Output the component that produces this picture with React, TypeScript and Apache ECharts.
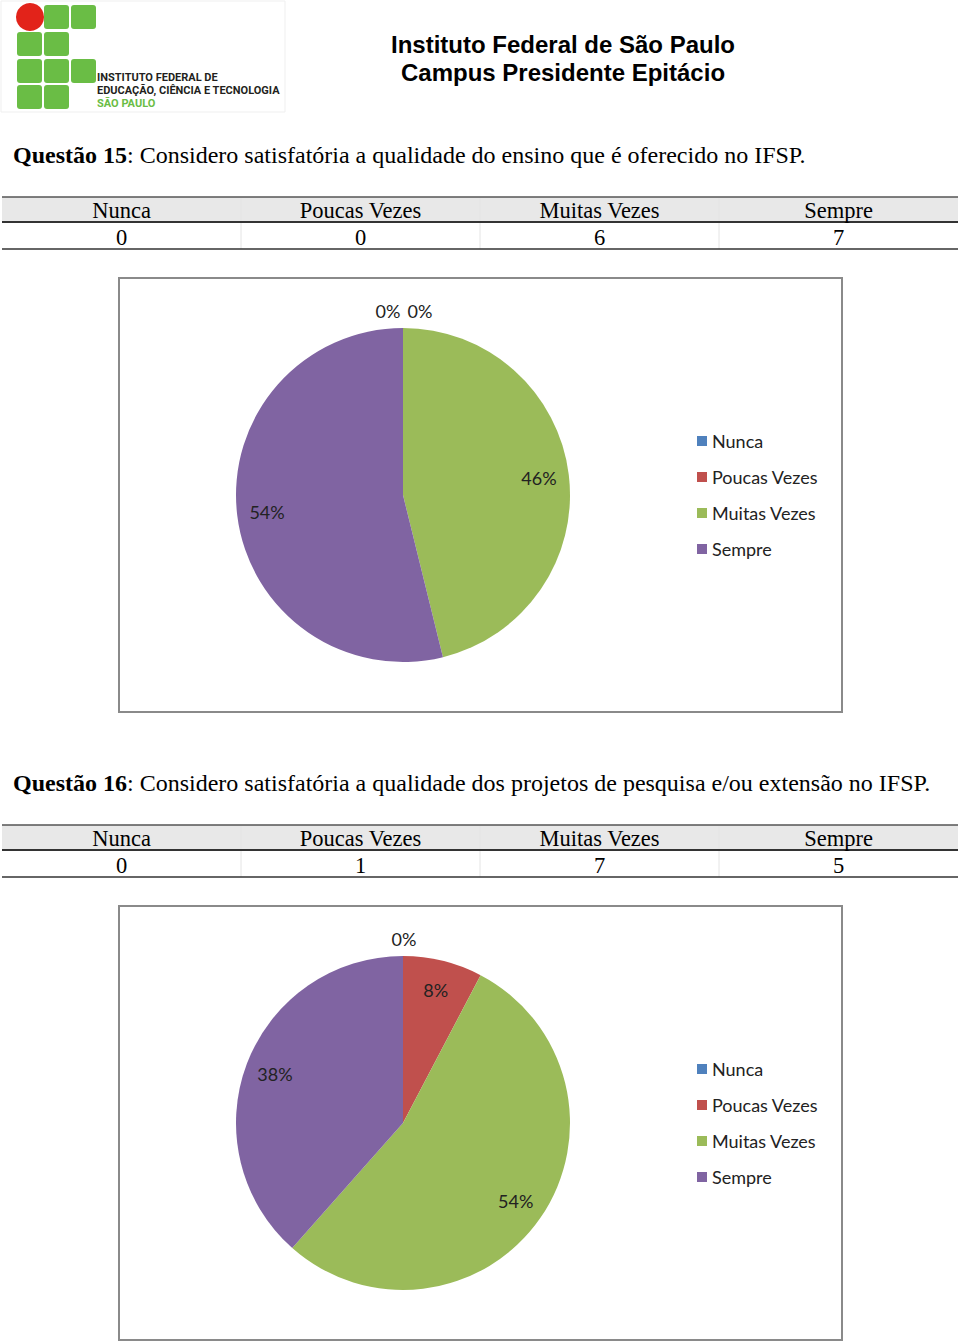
import React, { useEffect, useRef } from "react";
import * as echarts from "echarts";

const categories = ["Nunca", "Poucas Vezes", "Muitas Vezes", "Sempre"];
const q15Values = [0, 0, 6, 7];
const q16Values = [0, 1, 7, 5];
const q15Number = "15";
const q16Number = "16";
const q15Title = "Considero satisfatória a qualidade do ensino que é oferecido no IFSP.";
const q16Title = "Considero satisfatória a qualidade dos projetos de pesquisa e/ou extensão no IFSP.";
const headerLines = ["Instituto Federal de São Paulo", "Campus Presidente Epitácio"];
const logoLines = ["INSTITUTO FEDERAL DE", "EDUCAÇÃO, CIÊNCIA E TECNOLOGIA", "SÃO PAULO"];
const colors = ["#4F81BD", "#C0504D", "#9BBB59", "#8064A2"];

const SERIF = '"Liberation Serif", "Times New Roman", serif';
const SANS = '"Liberation Sans", Arial, sans-serif';
const CAL = 'Lato, "Open Sans", sans-serif';

const PIE_CX = 403;
const PIE_R = 167;
const SECTION_GAP = 628;

function pct(values: number[], i: number) {
  const total = values.reduce((a, b) => a + b, 0);
  return Math.round((values[i] / total) * 100) + "%";
}

function makeLabelLayout(values: number[], cy: number) {
  const total = values.reduce((a, b) => a + b, 0);
  const zeros = values.map((v, i) => (v === 0 ? i : -1)).filter((i) => i >= 0);
  return (params: any) => {
    const i = params.dataIndex;
    const v = values[i];
    if (v === 0) {
      const j = zeros.indexOf(i);
      const off = (j - (zeros.length - 1) / 2) * 32;
      return { x: PIE_CX + 1 + off, y: cy - PIE_R - 17, align: "center", verticalAlign: "middle" };
    }
    let before = 0;
    for (let k = 0; k < i; k++) before += values[k];
    const mid = ((before + v / 2) / total) * Math.PI * 2;
    const rr = PIE_R * 0.82;
    return {
      x: PIE_CX + rr * Math.sin(mid),
      y: cy - rr * Math.cos(mid),
      align: "center",
      verticalAlign: "middle",
    };
  };
}

function sectionGraphics(dy: number, num: string, title: string, values: number[]) {
  const els: any[] = [];
  els.push({
    type: "text",
    x: 13,
    y: 155 + dy,
    style: {
      text: "{b|Questão " + num + "}: " + title,
      font: "24px " + SERIF,
      fill: "#000",
      textVerticalAlign: "middle",
      rich: { b: { fontWeight: "bold", fontSize: 24, fontFamily: SERIF, fill: "#000" } },
    },
  });
  const tTop = 197 + dy;
  const colW = 239;
  els.push({ type: "rect", shape: { x: 2, y: tTop, width: 956, height: 25 }, style: { fill: "#e8e8e8" } });
  for (let c = 1; c < 4; c++) {
    els.push({ type: "line", shape: { x1: 2 + c * colW, y1: tTop, x2: 2 + c * colW, y2: tTop + 52 }, style: { stroke: "#e4e4e4", lineWidth: 1 } });
  }
  els.push({ type: "line", shape: { x1: 2, y1: tTop, x2: 958, y2: tTop }, style: { stroke: "#555", lineWidth: 1.5 } });
  els.push({ type: "line", shape: { x1: 2, y1: tTop + 25, x2: 958, y2: tTop + 25 }, style: { stroke: "#333", lineWidth: 2 } });
  els.push({ type: "line", shape: { x1: 2, y1: tTop + 52, x2: 958, y2: tTop + 52 }, style: { stroke: "#333", lineWidth: 1.5 } });
  categories.forEach((cat, i) => {
    const cx = 2 + (i + 0.5) * colW;
    els.push({ type: "text", x: cx, y: tTop + 13, style: { text: cat, font: "22.5px " + SERIF, fill: "#000", textAlign: "center", textVerticalAlign: "middle" } });
    els.push({ type: "text", x: cx, y: tTop + 40, style: { text: String(values[i]), font: "22.5px " + SERIF, fill: "#000", textAlign: "center", textVerticalAlign: "middle" } });
  });
  els.push({ type: "rect", shape: { x: 119, y: 278 + dy, width: 723, height: 434 }, style: { fill: "none", stroke: "#8a8a8a", lineWidth: 2 } });
  return els;
}

function logoGraphics() {
  const els: any[] = [];
  const green = "#6abd45";
  const cols = [17, 44, 71];
  const rows = [5, 32, 59, 85];
  const cells: [number, number][] = [
    [0, 1], [0, 2],
    [1, 0], [1, 1],
    [2, 0], [2, 1], [2, 2],
    [3, 0], [3, 1],
  ];
  els.push({ type: "rect", shape: { x: 1, y: 1, width: 284, height: 111 }, style: { fill: "#fff", stroke: "#efefef", lineWidth: 1 } });
  cells.forEach(([r, c]) => {
    els.push({ type: "rect", shape: { x: cols[c], y: rows[r], width: 25, height: 24, r: 3 }, style: { fill: green } });
  });
  els.push({ type: "circle", shape: { cx: 30, cy: 17, r: 14 }, style: { fill: "#e2231a" } });
  const ys = [77, 90, 103];
  logoLines.forEach((t, i) => {
    els.push({
      type: "text",
      x: 97,
      y: ys[i],
      style: {
        text: t,
        font: 'bold 11px "Liberation Sans Narrow", "Roboto", sans-serif',
        fill: i === 2 ? "#6abd45" : "#231f20",
        textVerticalAlign: "middle",
      },
    });
  });
  return els;
}

function pieSeries(values: number[], cy: number) {
  return {
    type: "pie",
    center: [PIE_CX, cy],
    radius: PIE_R,
    startAngle: 90,
    clockwise: true,
    silent: true,
    avoidLabelOverlap: false,
    data: categories.map((n, i) => ({ name: n, value: values[i], itemStyle: { color: colors[i] } })),
    label: {
      show: true,
      position: "inside",
      formatter: (p: any) => pct(values, p.dataIndex),
      fontFamily: CAL,
      fontSize: 18,
      color: "#222",
    },
    labelLine: { show: false },
    labelLayout: makeLabelLayout(values, cy),
    emphasis: { disabled: true },
  };
}

function legendAt(top: number) {
  return {
    orient: "vertical",
    left: 697,
    top: top,
    padding: 0,
    icon: "rect",
    itemWidth: 10,
    itemHeight: 10,
    itemGap: 18,
    selectedMode: false,
    data: categories,
    textStyle: { fontFamily: CAL, fontSize: 18, color: "#222", lineHeight: 18 },
  };
}

export default function App() {
  const ref = useRef<HTMLDivElement>(null);
  useEffect(() => {
    if (!ref.current) return;
    const chart = echarts.init(ref.current, null, { renderer: "svg" });
    const graphics = [
      ...logoGraphics(),
      {
        type: "text",
        x: 563,
        y: 44,
        style: { text: headerLines[0], font: "bold 24px " + SANS, fill: "#000", textAlign: "center", textVerticalAlign: "middle" },
      },
      {
        type: "text",
        x: 563,
        y: 72,
        style: { text: headerLines[1], font: "bold 24px " + SANS, fill: "#000", textAlign: "center", textVerticalAlign: "middle" },
      },
      ...sectionGraphics(0, q15Number, q15Title, q15Values),
      ...sectionGraphics(SECTION_GAP, q16Number, q16Title, q16Values),
    ];
    chart.setOption({
      animation: false,
      backgroundColor: "#fff",
      graphic: { elements: graphics },
      legend: [legendAt(432), legendAt(432 + SECTION_GAP)],
      series: [pieSeries(q15Values, 495), pieSeries(q16Values, 495 + SECTION_GAP)],
    });
    return () => chart.dispose();
  }, []);
  return <div ref={ref} style={{ position: "absolute", left: 0, top: 0, width: 960, height: 1342 }} />;
}
